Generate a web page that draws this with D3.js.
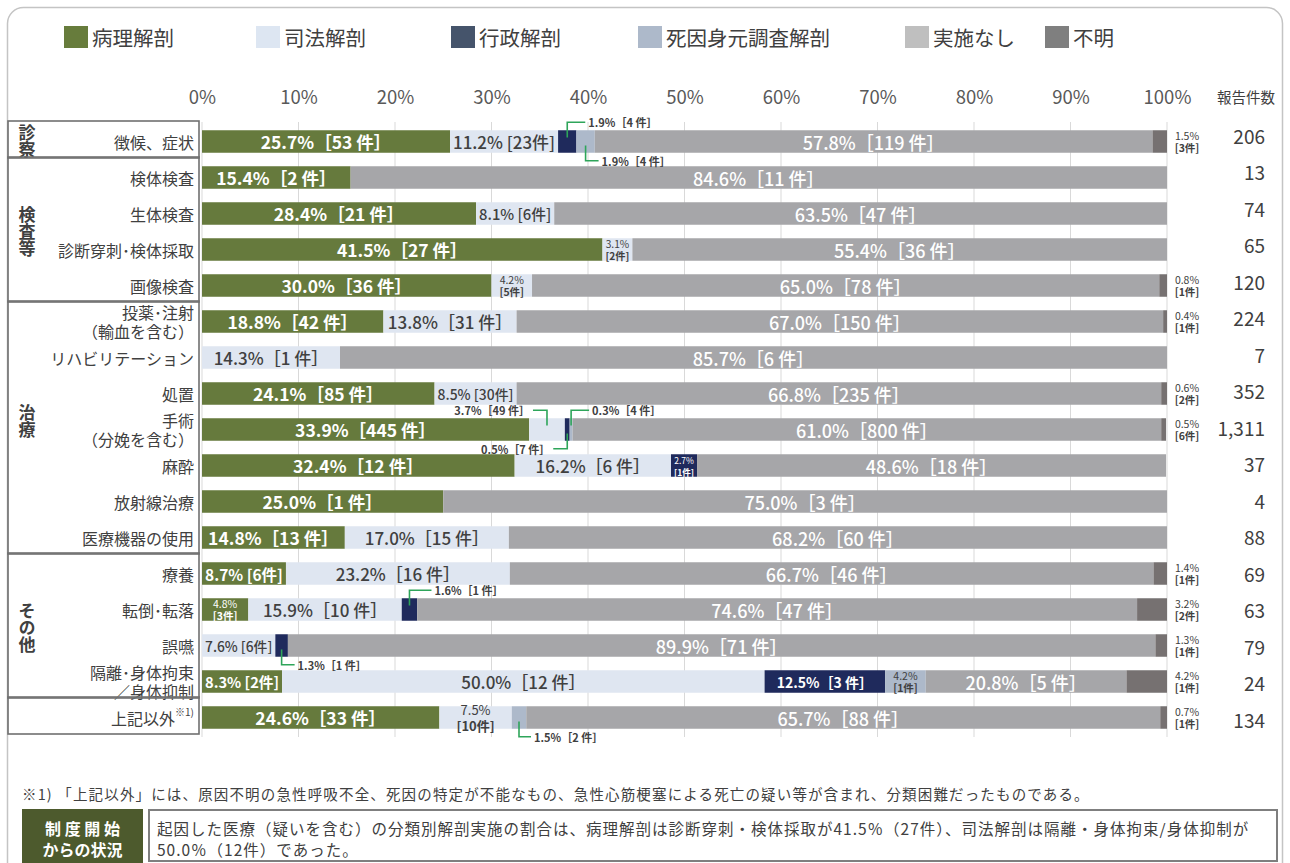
<!DOCTYPE html>
<html>
<head>
<meta charset="utf-8">
<script src="https://cdn.jsdelivr.net/npm/d3@7"></script>
<style>
  body { margin: 0; background: #fff; }
  svg { display: block; font-family: "Noto Sans CJK JP", "Noto Sans", sans-serif; }
</style>
</head>
<body>
<svg id="chart" width="1290" height="863"></svg>
<script>
// ---- data ---------------------------------------------------------------
const seriesNames = ["病理解剖", "司法解剖", "行政解剖", "死因身元調査解剖", "実施なし", "不明"];

const categories = [
  "徴候、症状", "検体検査", "生体検査", "診断穿刺･検体採取", "画像検査",
  "投薬･注射\n（輸血を含む）", "リハビリテーション", "処置", "手術\n（分娩を含む）",
  "麻酔", "放射線治療", "医療機器の使用",
  "療養", "転倒･転落", "誤嚥", "隔離･身体拘束\n／身体抑制",
  "上記以外※1)"
];

const groupNames = ["診察", "検査等", "治療", "その他", ""];
const groupSizes = [1, 4, 7, 4, 1];

// percentages per series
const pathology      = [25.7, 15.4, 28.4, 41.5, 30.0, 18.8, 0, 24.1, 33.9, 32.4, 25.0, 14.8, 8.7, 4.8, 0, 8.3, 24.6];
const judicial       = [11.2, 0, 8.1, 3.1, 4.2, 13.8, 14.3, 8.5, 3.7, 16.2, 0, 17.0, 23.2, 15.9, 7.6, 50.0, 7.5];
const administrative = [1.9, 0, 0, 0, 0, 0, 0, 0, 0.5, 2.7, 0, 0, 0, 1.6, 1.3, 12.5, 0];
const identity       = [1.9, 0, 0, 0, 0, 0, 0, 0, 0.3, 0, 0, 0, 0, 0, 0, 4.2, 1.5];
const notPerformed   = [57.8, 84.6, 63.5, 55.4, 65.0, 67.0, 85.7, 66.8, 61.0, 48.6, 75.0, 68.2, 66.7, 74.6, 89.9, 20.8, 65.7];
const unknown        = [1.5, 0, 0, 0, 0.8, 0.4, 0, 0.6, 0.5, 0, 0, 0, 1.4, 3.2, 1.3, 4.2, 0.7];

// case counts per series
const pathologyN      = [53, 2, 21, 27, 36, 42, 0, 85, 445, 12, 1, 13, 6, 3, 0, 2, 33];
const judicialN       = [23, 0, 6, 2, 5, 31, 1, 30, 49, 6, 0, 15, 16, 10, 6, 12, 10];
const administrativeN = [4, 0, 0, 0, 0, 0, 0, 0, 7, 1, 0, 0, 0, 1, 1, 3, 0];
const identityN       = [4, 0, 0, 0, 0, 0, 0, 0, 4, 0, 0, 0, 0, 0, 0, 1, 2];
const notPerformedN   = [119, 11, 47, 36, 78, 150, 6, 235, 800, 18, 3, 60, 46, 47, 71, 5, 88];
const unknownN        = [3, 0, 0, 0, 1, 1, 0, 2, 6, 0, 0, 0, 1, 2, 1, 1, 1];

const reported = [206, 13, 74, 65, 120, 224, 7, 352, 1311, 37, 4, 88, 69, 63, 79, 24, 134];

const tickValues = [0, 10, 20, 30, 40, 50, 60, 70, 80, 90, 100];

const footnote = "※1) 「上記以外」には、原因不明の急性呼吸不全、死因の特定が不能なもの、急性心筋梗塞による死亡の疑い等が含まれ、分類困難だったものである。";
const summaryTitle = ["制 度 開 始", "からの状況"];
const summaryText = [
  "起因した医療（疑いを含む）の分類別解剖実施の割合は、病理解剖は診断穿刺・検体採取が41.5％（27件）、司法解剖は隔離・身体拘束/身体抑制が",
  "50.0％（12件）であった。"
];

// ---- styles -------------------------------------------------------------
const keys = ["s0", "s1", "s2", "s3", "s4", "s5"];
const barColors    = ["#667a3d", "#dfe6f1", "#1f2a5c", "#adb9ca", "#a6a6a9", "#767171"];
const legendColors = ["#677c3c", "#dde6f2", "#45546b", "#adb9ca", "#bfbfbf", "#7f7f7f"];
const labelColors  = ["#ffffff", "#404040", "#ffffff", "#404040", "#ffffff", "#404040"];
const labelSizes   = [17.5, 17, 14, 11, 18, 11];
const labelWeights = [700, 500, 700, 700, 500, 700];
const leaderColor = "#2ea55a";
const textDark = "#404040";

// ---- build table --------------------------------------------------------
const valueArrays = [pathology, judicial, administrative, identity, notPerformed, unknown];
const countArrays = [pathologyN, judicialN, administrativeN, identityN, notPerformedN, unknownN];
const table = categories.map((c, i) => {
  const row = { cat: c, idx: i };
  keys.forEach((k, j) => { row[k] = valueArrays[j][i]; });
  return row;
});
const stacked = d3.stack().keys(keys)(table);

// ---- scales -------------------------------------------------------------
const svg = d3.select("#chart");
const x = d3.scaleLinear().domain([0, 100]).range([202, 1167]);
const y = d3.scaleBand().domain(categories).range([123.5, 735.5])
  .paddingInner(0.375).paddingOuter(0.1875);
const bw = y.bandwidth();
const cy = c => y(c) + bw / 2;
// the count column is laid out on its own slightly taller grid
const yCount = d3.scalePoint().domain(categories).range([135, 719]);

// outer frame
svg.append("rect")
  .attr("x", 7.5).attr("y", 7.5).attr("width", 1275).attr("height", 900)
  .attr("rx", 16).attr("fill", "none").attr("stroke", "#c4c4c4").attr("stroke-width", 1.5);

// ---- legend -------------------------------------------------------------
const legendX = [64, 256, 451, 638, 905, 1045];
const legend = svg.append("g").attr("class", "legend");
seriesNames.forEach((name, i) => {
  legend.append("rect")
    .attr("x", legendX[i]).attr("y", 26).attr("width", 24).attr("height", 22)
    .attr("fill", legendColors[i]);
  legend.append("text")
    .attr("x", legendX[i] + 28).attr("y", 37)
    .attr("dominant-baseline", "central")
    .attr("font-size", 20.5).attr("fill", textDark)
    .text(name);
});

// ---- gridlines & axis ---------------------------------------------------
svg.append("g").attr("class", "grid")
  .selectAll("line").data(tickValues).join("line")
  .attr("x1", d => x(d)).attr("x2", d => x(d))
  .attr("y1", 122).attr("y2", 737)
  .attr("stroke", "#d9d9d9").attr("stroke-width", 1);

const axis = svg.append("g").attr("transform", "translate(0,96)")
  .call(d3.axisTop(x).tickValues(tickValues).tickFormat(d => d + "%").tickSize(0));
axis.select(".domain").remove();
axis.selectAll("text")
  .attr("y", 0).attr("dy", null)
  .attr("dominant-baseline", "central")
  .attr("font-size", 18.5).attr("fill", "#595959")
  .attr("font-family", "\"Noto Sans CJK JP\", sans-serif");

svg.append("text")
  .attr("x", 1246).attr("y", 96).attr("text-anchor", "middle")
  .attr("dominant-baseline", "central")
  .attr("font-size", 14.5).attr("fill", textDark)
  .text("報告件数");

// ---- bars ---------------------------------------------------------------
const bars = svg.append("g").attr("class", "bars");
stacked.forEach((layer, si) => {
  bars.append("g").attr("fill", barColors[si])
    .selectAll("rect").data(layer.filter(d => d[1] - d[0] > 0)).join("rect")
    .attr("x", d => x(d[0]))
    .attr("y", d => y(d.data.cat))
    .attr("width", d => Math.max(0, x(Math.min(100, d[1])) - x(d[0])))
    .attr("height", bw);
});

// ---- labels -------------------------------------------------------------
const labels = svg.append("g").attr("class", "labels");
const fmt = v => v.toFixed(1) + "%";

// small segments that are labelled via a leader line: dir -1 = above, +1 = below
const callouts = {
  "0|2": { dir: -1, dx: 18 },
  "0|3": { dir: 1, dx: 13 },
  "8|1": { dir: -1, dx: -14 },
  "8|2": { dir: 1, dx: -14 },
  "8|3": { dir: -1, dx: 18 },
  "13|2": { dir: -1, dx: 22 },
  "14|2": { dir: 1, dx: 13 },
  "16|3": { dir: 1, dx: 12 }
};
// segments whose label is stacked on two lines inside the bar
const stackedLabels = new Set(["16|1"]);

function twoLine(g, xc, yc, v, n, color, maxSize, room) {
  const t = g.append("text").attr("text-anchor", "middle")
    .attr("fill", color).attr("font-size", maxSize);
  const a = t.append("tspan").attr("x", xc).attr("dominant-baseline", "central")
    .attr("font-weight", 400).text(fmt(v));
  const b = t.append("tspan").attr("x", xc).attr("dominant-baseline", "central")
    .attr("font-weight", 700).text("[" + n + "件]");
  if (room) {
    const w = Math.max(a.node().getComputedTextLength(), b.node().getComputedTextLength());
    if (w > room) t.attr("font-size", Math.max(8.5, maxSize * room / w));
  }
  const s = +t.attr("font-size");
  const gap = Math.max(6, s * 0.58);
  a.attr("y", yc - gap);
  b.attr("y", yc + gap);
}

stacked.forEach((layer, si) => {
  layer.forEach(d => {
    const i = d.data.idx;
    const v = valueArrays[si][i];
    const n = countArrays[si][i];
    if (!(v > 0)) return;
    const x0 = x(d[0]), x1 = x(Math.min(100, d[1]));
    const xm = (x0 + x1) / 2;
    const yc = cy(d.data.cat);
    const key = i + "|" + si;

    if (callouts[key]) {
      const c = callouts[key];
      const yEnd = c.dir < 0 ? y(d.data.cat) - 8 : y(d.data.cat) + bw + 8;
      labels.append("path")
        .attr("d", `M${xm},${yc + c.dir * 4}V${yEnd}H${xm + c.dx}`)
        .attr("fill", "none").attr("stroke", leaderColor).attr("stroke-width", 1.6);
      labels.append("text")
        .attr("x", xm + c.dx + (c.dx > 0 ? 3 : -3)).attr("y", yEnd)
        .attr("text-anchor", c.dx > 0 ? "start" : "end")
        .attr("dominant-baseline", "central")
        .attr("font-size", 11).attr("font-weight", 700).attr("fill", textDark)
        .text(fmt(v) + "［" + n + " 件］");
      return;
    }

    if (si === 5) {
      twoLine(labels, x(100) + 20, yc, v, n, textDark, 10.5);
      return;
    }

    const width = x1 - x0;
    const room = width - 6;
    if (stackedLabels.has(key)) {
      twoLine(labels, xm, yc, v, n, labelColors[si], 13, room);
      return;
    }
    const t = labels.append("text")
      .attr("x", xm).attr("y", yc)
      .attr("text-anchor", "middle").attr("dominant-baseline", "central")
      .attr("font-size", labelSizes[si]).attr("font-weight", labelWeights[si])
      .attr("fill", labelColors[si])
      .text(fmt(v) + "［" + n + " 件］");
    let len = t.node().getComputedTextLength();
    if (len <= room) return;
    let size = labelSizes[si] * room / len;
    if (size < 14) {
      // compact form with narrow brackets for tight segments
      t.text(fmt(v) + " [" + n + "件]");
      len = t.node().getComputedTextLength();
      size = Math.min(labelSizes[si], labelSizes[si] * room / len);
    }
    if (size >= 10.5) {
      t.attr("font-size", size);
    } else {
      t.remove();
      twoLine(labels, xm, yc, v, n, labelColors[si], 10.5, room);
    }
  });
});

// ---- report counts ------------------------------------------------------
svg.append("g").selectAll("text").data(categories).join("text")
  .attr("x", 1265).attr("y", c => yCount(c))
  .attr("text-anchor", "end").attr("dominant-baseline", "central")
  .attr("font-size", 19).attr("fill", textDark)
  .text((c, i) => d3.format(",")(reported[i]));

// ---- category labels ----------------------------------------------------
const catG = svg.append("g").attr("class", "categories");
categories.forEach(c => {
  const yc = cy(c);
  const t = catG.append("text").attr("text-anchor", "end")
    .attr("font-size", 16).attr("fill", textDark);
  if (c.includes("\n")) {
    c.split("\n").forEach((line, k) => {
      t.append("tspan").attr("x", 194).attr("y", yc + (k === 0 ? -9.5 : 9.5))
        .attr("dominant-baseline", "central").text(line);
    });
  } else if (c.includes("※")) {
    const [main, note] = c.split("※");
    t.attr("x", 194).attr("y", yc).attr("dominant-baseline", "central");
    t.append("tspan").text(main);
    t.append("tspan").attr("font-size", 10).attr("dy", -7).text("※" + note);
  } else {
    t.attr("x", 194).attr("y", yc).attr("dominant-baseline", "central").text(c);
  }
});

// ---- group boxes --------------------------------------------------------
const groupG = svg.append("g").attr("class", "groups");
let start = 0;
groupNames.forEach((g, gi) => {
  const first = categories[start];
  const last = categories[start + groupSizes[gi] - 1];
  const top = cy(first) - 20.5;
  const bottom = cy(last) + 16.5;
  groupG.append("rect")
    .attr("x", 8).attr("y", top).attr("width", 191).attr("height", bottom - top)
    .attr("fill", "none").attr("stroke", "#707070").attr("stroke-width", 1.6);
  if (g) {
    const mid = (cy(first) + cy(last)) / 2 - (groupSizes[gi] > 4 ? 8 : 0);
    groupG.append("text")
      .attr("x", 27).attr("y", mid)
      .attr("writing-mode", "vertical-rl")
      .attr("text-anchor", "middle").attr("dominant-baseline", "central")
      .attr("font-size", 17).attr("font-weight", 700).attr("fill", textDark)
      .text(g);
  }
  start += groupSizes[gi];
});

// ---- footnote & summary -------------------------------------------------
svg.append("text")
  .attr("x", 22).attr("y", 793).attr("dominant-baseline", "central")
  .attr("font-size", 14.5).attr("letter-spacing", 1.15).attr("fill", textDark)
  .text(footnote);

svg.append("rect")
  .attr("x", 22).attr("y", 809).attr("width", 121).attr("height", 56)
  .attr("fill", "#4d5a2d");
summaryTitle.forEach((line, k) => {
  svg.append("text")
    .attr("x", 82.5).attr("y", 828 + k * 21)
    .attr("text-anchor", "middle").attr("dominant-baseline", "central")
    .attr("font-size", 16).attr("font-weight", 700).attr("fill", "#ffffff")
    .text(line);
});

svg.append("rect")
  .attr("x", 149).attr("y", 810).attr("width", 1128).attr("height", 51)
  .attr("fill", "#ffffff").attr("stroke", "#7f7f7f").attr("stroke-width", 2);
summaryText.forEach((line, k) => {
  svg.append("text")
    .attr("x", 157).attr("y", 828 + k * 21)
    .attr("dominant-baseline", "central")
    .attr("font-size", 15.5).attr("letter-spacing", 1).attr("fill", textDark)
    .text(line);
});
</script>
</body>
</html>
